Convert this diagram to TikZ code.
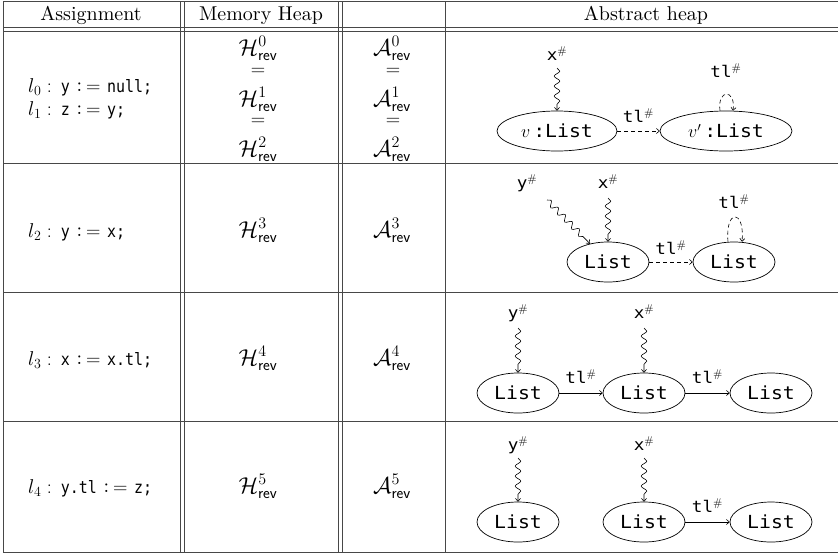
\RequirePackage{fix-cm}
\documentclass[tikz,border=0pt]{standalone}
\usepackage{fontspec}
\setmainfont{lmroman10-regular.otf}
\newfontfamily\codefont[FakeStretch=0.88]{DejaVu Sans Mono}
\newfontfamily\heapfont[FakeStretch=1.1]{DejaVu Sans Mono}
\usetikzlibrary{shapes.geometric,decorations.pathmorphing,arrows.meta}
\newcommand{\cd}[1]{{\codefont\fontsize{17}{20}\selectfont #1}}
\newcommand{\Hr}[1]{$\mathcal{H}^{#1}_{\mathsf{rev}}$}
\newcommand{\Ar}[1]{$\mathcal{A}^{#1}_{\mathsf{rev}}$}
\newcommand{\sh}{$^{\#}$}
\newcommand{\ceq}{$\mathrel{\vcenter{\hbox{:}}\mkern-1.5mu=}$}
\begin{document}
\begin{tikzpicture}[x=1pt,y=-1pt,
  tline/.style={draw=black!72,line width=0.9pt},
  txt/.style={inner sep=0pt,font=\fontsize{20}{24}\selectfont},
  hm/.style={inner sep=0pt,font=\fontsize{23}{26}\selectfont},
  lst/.style={ellipse,draw,line width=0.7pt,inner sep=0pt,minimum width=82pt,minimum height=40pt,font=\heapfont\fontsize{18}{20}\selectfont},
  lab/.style={inner sep=0pt,font=\heapfont\fontsize{16}{18}\selectfont},
  arr/.style={line width=0.6pt,-{To[length=3.5pt,width=5.5pt]}},
  wav/.style={arr,decorate,decoration={snake,amplitude=2.8pt,segment length=10pt,post length=5pt}},
  dsh/.style={arr,dash pattern=on 4pt off 3pt},
]
\useasboundingbox (0,0) rectangle (838,555);
% table rules
\foreach \yy in {1.5,27,31.5,163,292,421,552}
  \draw[tline] (3,\yy) -- (838,\yy);
\foreach \xx in {3,180,184,338,342,445}
  \draw[tline] (\xx,1.5) -- (\xx,552);
% header
\node[txt,anchor=base] (h1) at (91,20) {Assignment};
\node[txt,anchor=base] (h2) at (261,20) {Memory Heap};
\node[txt,anchor=base] (h4) at (646,20) {Abstract heap};
% assignments
\node[txt,anchor=base west] (a0) at (28,92) {$l_0:$\hspace{9pt}\cd{y} \ceq{} \cd{null;}};
\node[txt,anchor=base west] (a1) at (28,115) {$l_1:$\hspace{9pt}\cd{z} \ceq{} \cd{y;}};
\node[txt,anchor=base west] (a2) at (28,237) {$l_2:$\hspace{9pt}\cd{y} \ceq{} \cd{x;}};
\node[txt,anchor=base west] (a3) at (28,365) {$l_3:$\hspace{9pt}\cd{x} \ceq{} \cd{x.tl;}};
\node[txt,anchor=base west] (a4) at (28,493) {$l_4:$\hspace{9pt}\cd{y.tl} \ceq{} \cd{z;}};
% memory heap
\node[hm,anchor=base] (m0) at (258,55) {\Hr0};
\node[txt] (m0e) at (258,72) {$=$};
\node[hm,anchor=base] (m1) at (258,106) {\Hr1};
\node[txt] (m1e) at (258,122) {$=$};
\node[hm,anchor=base] (m2) at (258,156) {\Hr2};
\node[hm,anchor=base] (m3) at (258,237) {\Hr3};
\node[hm,anchor=base] (m4) at (258,365) {\Hr4};
\node[hm,anchor=base] (m5) at (258,493) {\Hr5};
% abstract names
\node[hm,anchor=base] (n0) at (392,55) {\Ar0};
\node[txt] (n0e) at (393,72) {$=$};
\node[hm,anchor=base] (n1) at (392,106) {\Ar1};
\node[txt] (n1e) at (393,122) {$=$};
\node[hm,anchor=base] (n2) at (392,156) {\Ar2};
\node[hm,anchor=base] (n3) at (392,237) {\Ar3};
\node[hm,anchor=base] (n4) at (392,365) {\Ar4};
\node[hm,anchor=base] (n5) at (392,493) {\Ar5};
% ---- row 1 heap
\node[lst,minimum width=120pt] (r1a) at (557,131) {$v$\,:List};
\node[lst,minimum width=132pt] (r1b) at (726,131) {$v'$\,:List};
\node[lab,anchor=base] (r1x) at (557,60) {x\sh};
\draw[wav] ([yshift=-8pt]r1x.base) -- (r1a);
\draw[dsh] (r1a) -- node[lab,above=8pt] {tl\sh} (r1b);
\draw[dsh] ([xshift=-6pt]r1b.north) .. controls +(-3,-22) and +(3,-22) .. ([xshift=7pt]r1b.north);
\node[lab,anchor=base] (r1l) at (726,77) {tl\sh};
% ---- row 2 heap
\node[lst] (r2a) at (608,262) {List};
\node[lst] (r2b) at (734,262) {List};
\node[lab,anchor=base] (r2y) at (527,188) {y\sh};
\node[lab,anchor=base] (r2x) at (608,188) {x\sh};
\draw[wav] ([yshift=-10pt]r2x.base) -- (r2a);
\draw[wav] ([xshift=20pt,yshift=-12pt]r2y.base) -- (r2a);
\draw[dsh] (r2a) -- node[lab,above=7pt] {tl\sh} (r2b);
\draw[dsh] ([xshift=-6pt]r2b.north) .. controls +(-3,-33) and +(3,-33) .. ([xshift=8pt]r2b.north);
\node[lab,anchor=base] (r2l) at (734,208) {tl\sh};
% ---- row 3 heap
\node[lst] (r3a) at (518,393) {List};
\node[lst] (r3b) at (644,393) {List};
\node[lst] (r3c) at (771,393) {List};
\node[lab,anchor=base] (r3y) at (518,318) {y\sh};
\node[lab,anchor=base] (r3x) at (644,318) {x\sh};
\draw[wav] ([yshift=-10pt]r3y.base) -- (r3a);
\draw[wav] ([yshift=-10pt]r3x.base) -- (r3b);
\draw[arr] (r3a) -- node[lab,above=9pt] {tl\sh} (r3b);
\draw[arr] (r3b) -- node[lab,above=9pt] {tl\sh} (r3c);
% ---- row 4 heap
\node[lst] (r4a) at (518,522) {List};
\node[lst] (r4b) at (644,522) {List};
\node[lst] (r4c) at (771,522) {List};
\node[lab,anchor=base] (r4y) at (518,450) {y\sh};
\node[lab,anchor=base] (r4x) at (644,450) {x\sh};
\draw[wav] ([yshift=-8pt]r4y.base) -- (r4a);
\draw[wav] ([yshift=-8pt]r4x.base) -- (r4b);
\draw[arr] (r4b) -- node[lab,above=9pt] {tl\sh} (r4c);
\end{tikzpicture}
\end{document}
